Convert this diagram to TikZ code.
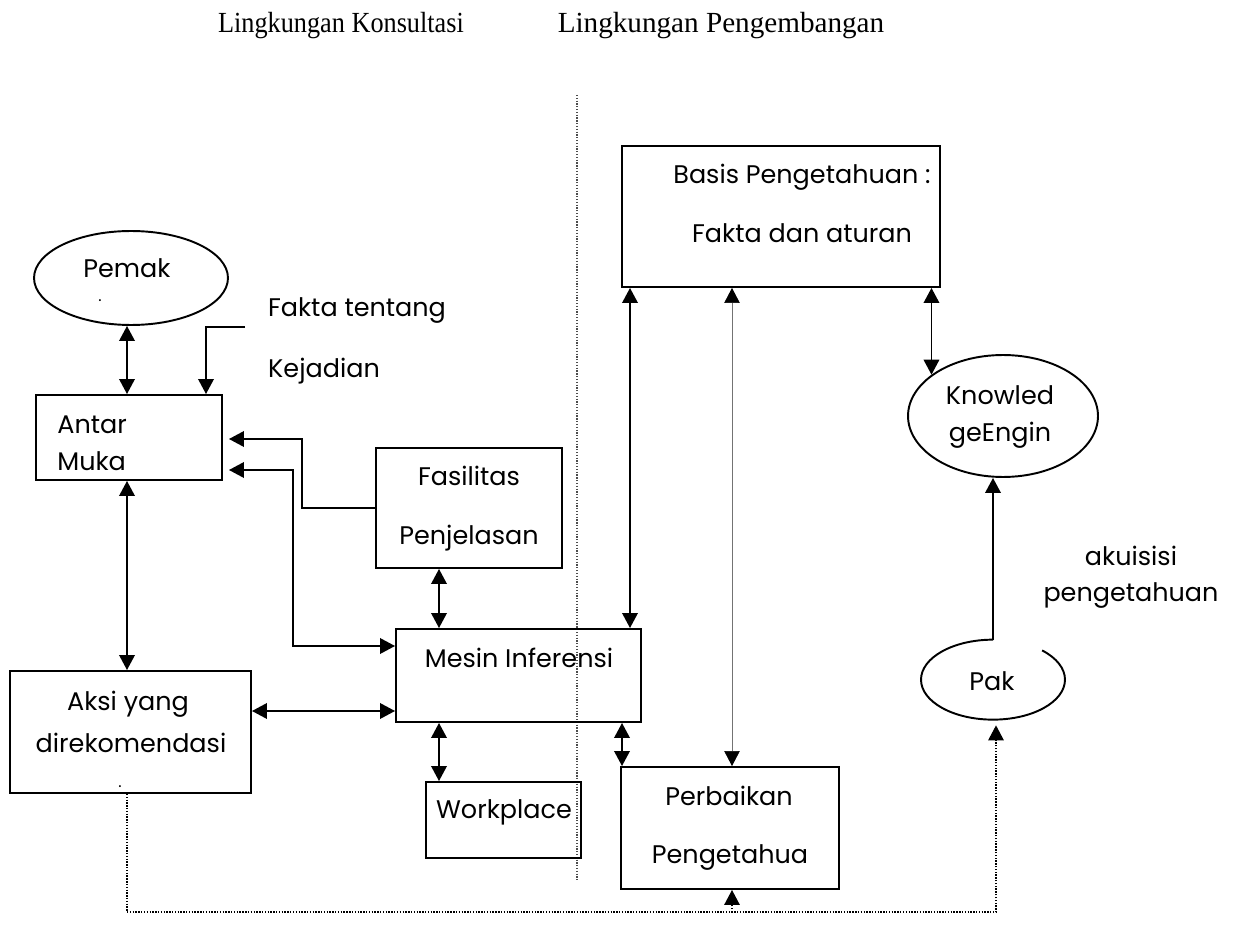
\documentclass[tikz,border=0pt]{standalone}
\usepackage{fontspec}
\setmainfont{Poppins}
\newfontfamily\hdrfont{Liberation Serif}
\usetikzlibrary{arrows.meta,shapes.geometric,fit}

\begin{document}
\begin{tikzpicture}[x=0.02cm,y=-0.02cm,
  >={Triangle[width=0.31cm,length=0.3cm]},
  box/.style={draw, line width=1.1pt, inner sep=0pt},
  oval/.style={draw, ellipse, line width=1.1pt, inner sep=0pt},
  lbl/.style={anchor=base, inner sep=0pt, font=\fontsize{14.5}{17}\selectfont},
  hdr/.style={anchor=base, inner sep=0pt, font=\hdrfont\fontsize{16.6}{20}\selectfont},
  arw/.style={line width=1.1pt},
  thin/.style={line width=0.4pt, draw=black!55},
  dotline/.style={line width=0.8pt, dash pattern=on 0.8pt off 0.8pt},
  sepline/.style={line width=0.7pt, draw=black!70, dash pattern=on 0.7pt off 0.9pt}
]
\useasboundingbox (0,0) rectangle (1241,942);

% headings
\node[hdr] (h1) at (341,33) {\scalebox{0.9}[1]{Lingkungan Konsultasi}};
\node[hdr] (h2) at (721,33) {Lingkungan Pengembangan};

% separator between the two environments
\draw[sepline] (577,95) -- (577,880);

% boxes
\node[box, fit={(622,146) (940,287)}] (basis) {};
\node[box, fit={(36,395) (222,480)}] (antar) {};
\node[box, fit={(376,448) (562,568)}] (fasil) {};
\node[box, fit={(396,629) (641,722)}] (mesin) {};
\node[box, fit={(10,671) (251,793)}] (aksi) {};
\node[box, fit={(426,782) (581,858)}] (work) {};
\node[box, fit={(621,767) (839,889)}] (perb) {};

% ellipses
\node[oval, minimum width=3.88cm, minimum height=1.88cm] (pemak) at (131,278) {};
\node[oval, minimum width=3.8cm, minimum height=2.44cm] (knowl) at (1003,416) {};
\node[ellipse, inner sep=0pt, minimum width=2.88cm, minimum height=1.6cm] (pak) at (993,680) {};
\draw[line width=1.1pt] (pak.north) arc[start angle=90, end angle=407, x radius=1.44cm, y radius=0.8cm];

% labels
\node[lbl] (tpemak) at (127,278) {Pemak};
\node[lbl, font=\fontsize{9}{10}\selectfont] (tdot1) at (100,302) {.};
\node[lbl] (tfakta1) at (357,317) {Fakta tentang};
\node[lbl] (tfakta2) at (324,378) {Kejadian};
\node[lbl, anchor=base west] (tantar1) at (57,434) {Antar};
\node[lbl, anchor=base west] (tantar2) at (57,471) {Muka};
\node[lbl] (tfas1) at (469,485) {Fasilitas};
\node[lbl] (tfas2) at (469,544) {Penjelasan};
\node[lbl] (tmesin) at (519,667) {Mesin Inferensi};
\node[lbl] (taksi1) at (128,710) {Aksi yang};
\node[lbl] (taksi2) at (131,752) {direkomendasi};
\node[lbl, font=\fontsize{9}{10}\selectfont] (tdot2) at (120,787) {.};
\node[lbl] (twork) at (504,818) {Workplace};
\node[lbl] (tperb1) at (729,805) {Perbaikan};
\node[lbl] (tperb2) at (730,863) {Pengetahua};
\node[lbl] (tbasis1) at (802,184) {Basis Pengetahuan :};
\node[lbl] (tbasis2) at (802,243) {Fakta dan aturan};
\node[lbl] (tknow1) at (1000,405) {Knowled};
\node[lbl] (tknow2) at (1000,441) {geEngin};
\node[lbl] (takui1) at (1131,565) {akuisisi};
\node[lbl] (takui2) at (1131,601) {pengetahuan};
\node[lbl] (tpak) at (992,690) {Pak};

% helper columns and rows for the connectors
\coordinate (xL) at (127,0);
\coordinate (xF) at (439,0);
\coordinate (xM) at (622,0);
\coordinate (xB) at (630,0);
\coordinate (xP) at (732,0);
\coordinate (xK) at (996,0);
\coordinate (fkx) at (206,0);
\coordinate (fk) at (245,327);
\coordinate (f1) at (0,508);
\coordinate (r1) at (302,439);
\coordinate (r2) at (293,470);
\coordinate (m1) at (0,646);
\coordinate (yA) at (0,711);
\coordinate (yB) at (0,912);

% consultation side
\draw[arw, <->] (pemak.south -| xL) -- (antar.north -| xL);
\draw[arw, ->] (fk) -| (antar.north -| fkx);
\draw[arw, ->, shorten >=0.12cm] (fasil.west |- f1) -| (r1) -- (antar.east |- r1);
\draw[arw, <->, shorten <=0.12cm] (antar.east |- r2) -- (r2) |- (mesin.west |- m1);
\draw[arw, <->] (antar.south -| xL) -- (aksi.north -| xL);
\draw[arw, <->] (aksi.east |- yA) -- (mesin.west |- yA);
\draw[arw, <->] (fasil.south -| xF) -- (mesin.north -| xF);
\draw[arw, <->] (mesin.south -| xF) -- (work.north -| xF);

% development side
\draw[arw, <->] (basis.south -| xB) -- (mesin.north -| xB);
\draw[thin, <->, >={Triangle[width=0.31cm,length=0.3cm,color=black,fill=black]}] (basis.south -| xP) -- (perb.north -| xP);
\draw[arw, <->] (basis.south -| knowl.150) -- (knowl.150);
\draw[arw, <->] (mesin.south -| xM) -- (perb.north -| xM);
\draw[arw, ->] (pak.north) -- (pak.north |- knowl.south);

% feedback paths
\draw[dotline, ->, shorten >=0.1cm] (aksi.south -| xL) |- (xK |- yB) -- (pak.south -| xK);
\draw[dotline, ->] (xP |- yB) -- (perb.south -| xP);
\end{tikzpicture}
\end{document}
